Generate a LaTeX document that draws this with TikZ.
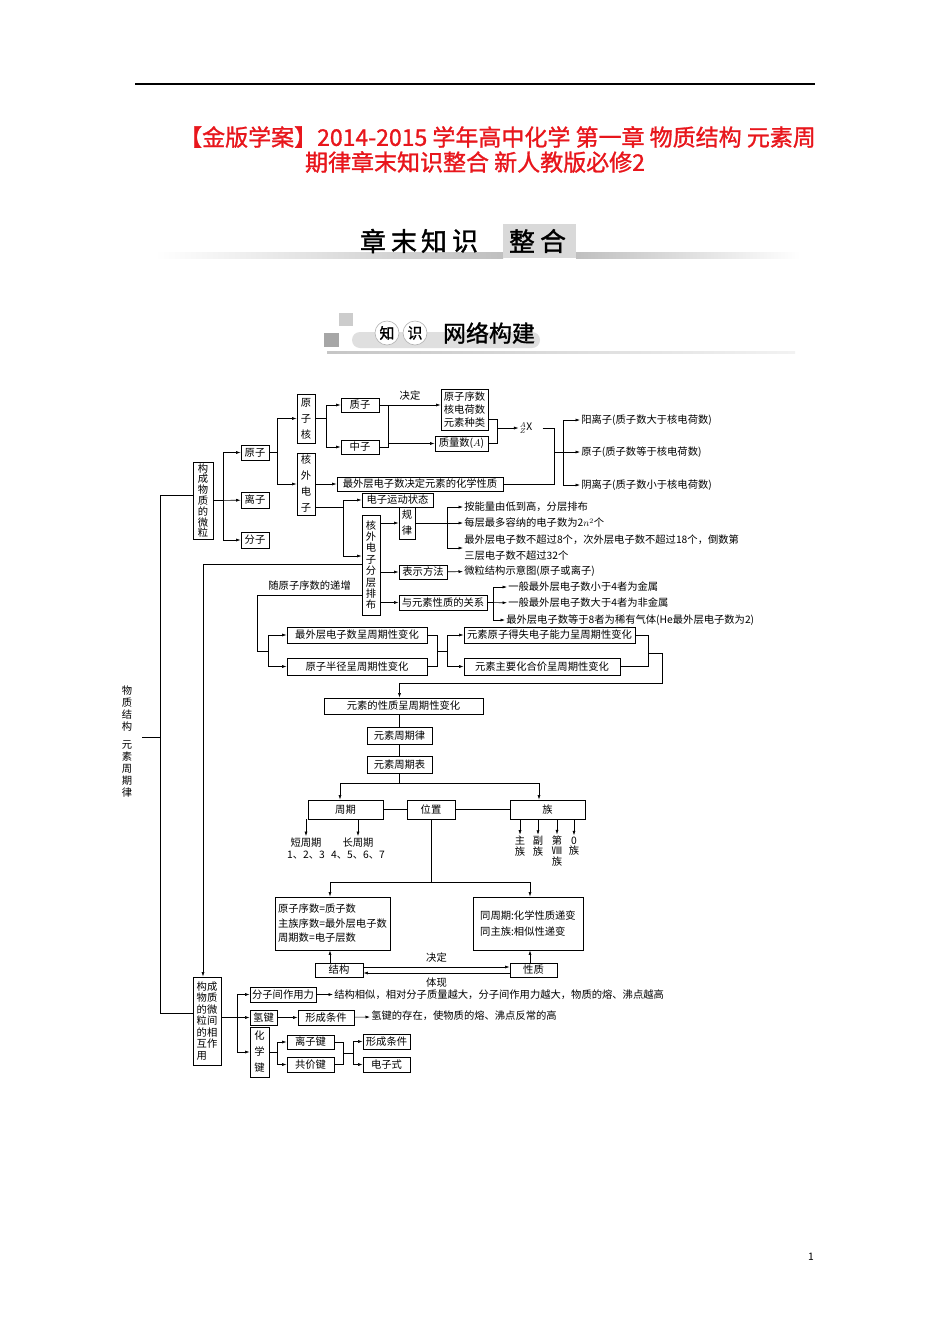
\documentclass[tikz,border=0pt]{standalone}
\usepackage{fontspec}
\setmainfont{Noto Sans CJK SC}
\newfontfamily\hdfont{Noto Sans CJK SC}[FakeBold=1.2]
\usetikzlibrary{arrows.meta,calc}
\definecolor{titlered}{RGB}{232,22,28}

\begin{document}
\begin{tikzpicture}[x=1pt,y=-1pt,line width=0.6pt,>={Latex[length=4.5pt,width=3pt]},
  every node/.style={font=\fontsize{10.3}{12}\selectfont},
  box/.style={draw,line width=0.8pt,inner sep=0pt,align=center},
  vbox/.style={box,font=\fontsize{10.3}{#1}\selectfont}, vbox/.default=16,
  txt/.style={anchor=west,inner sep=1pt},
  vt/.style={align=center,inner sep=1pt,font=\fontsize{10.3}{10.5}\selectfont}]
  \path[use as bounding box,fill=white] (0,0) rectangle (950,1344);

  \draw[line width=1.5pt] (135,84) -- (815,84);
  \node[text=titlered,font=\hdfont\fontsize{23}{25}\selectfont] (title1) at (497.5,137) {【金版学案】2014-2015 学年高中化学 第一章 物质结构 元素周};
  \node[text=titlered,font=\hdfont\fontsize{23}{25}\selectfont] (title2) at (475,162) {期律章末知识整合 新人教版必修2};

  \shade[left color=white,right color=gray!50] (155,252) rectangle (503,258);
  \shade[left color=gray!50,right color=white] (576,252) rectangle (800,258);
  \fill[gray!30] (503,224) rectangle (576,258);
  \foreach \c/\x [count=\i] in {章/373,末/404,知/434,识/465,整/522,合/553}
    \node[font=\hdfont\fontsize{26}{26}\selectfont] (hd\i) at (\x,241) {\c};

  \fill[gray!40] (339,313) rectangle (353,326);
  \fill[gray!70] (324,333) rectangle (339,347);
  \shade[left color=gray!45,right color=gray!10] (327,351) rectangle (795,353);
  \fill[gray!25,rounded corners=8pt] (352,332) rectangle (540,348);
  \node[circle,draw=gray!60,fill=white,minimum size=24,inner sep=0pt,font=\hdfont\fontsize{15}{15}\selectfont] (zs1) at (387,333) {知};
  \node[circle,draw=gray!60,fill=white,minimum size=24,inner sep=0pt,font=\hdfont\fontsize{15}{15}\selectfont] (zs2) at (415,333) {识};
  \node[font=\hdfont\fontsize{23}{23}\selectfont] (wljg) at (489,333) {网络构建};

  \node[align=center,inner sep=0pt] (root) at (127,742) {物\\质\\结\\构\\[6pt]元\\素\\周\\期\\律};
  \node[vbox=10.8,minimum width=20,minimum height=77] (wl) at (203,500.5) {构\\成\\物\\质\\的\\微\\粒};
  \node[box,minimum width=28,minimum height=15] (yz) at (255,452.5) {原子};
  \node[box,minimum width=28,minimum height=16] (lz) at (255,500) {离子};
  \node[box,minimum width=28,minimum height=16] (fz) at (255,540) {分子};
  \node[vbox,minimum width=18,minimum height=49] (yzh) at (306,418.5) {原\\子\\核};
  \node[vbox,minimum width=18,minimum height=62] (hwdz) at (306,484) {核\\外\\电\\子};
  \node[box,minimum width=38,minimum height=14] (zz) at (360,405) {质子};
  \node[box,minimum width=38,minimum height=14] (zhz) at (360,447) {中子};
  \node[vbox=13,minimum width=47,minimum height=41] (xs) at (464.5,409.5) {原子序数\\核电荷数\\元素种类};
  \node[box,minimum width=53,minimum height=15] (zls) at (461.5,443.5) {质量数($A$)};
  \node[inner sep=1pt] (X) at (526,428) {$^{A}_{Z}\mathrm{X}$};
  \node[txt] (ylz) at (580,420) {阳离子(质子数大于核电荷数)};
  \node[txt] (yzt) at (580,452) {原子(质子数等于核电荷数)};
  \node[txt] (yinlz) at (580,485) {阴离子(质子数小于核电荷数)};
  \node[box,minimum width=166,minimum height=14] (zwc) at (420,484) {最外层电子数决定元素的化学性质};
  \node[box,minimum width=71,minimum height=14] (ydzt) at (397.5,500) {电子运动状态};
  \node[vbox=11.4,minimum width=18,minimum height=100] (fcpb) at (371,565) {核\\外\\电\\子\\分\\层\\排\\布};
  \node[vbox,minimum width=16,minimum height=32] (gl) at (407,523) {规\\律};
  \node[box,minimum width=48,minimum height=14] (bsff) at (423,572) {表示方法};
  \node[box,minimum width=88,minimum height=15] (gx) at (443,602.5) {与元素性质的关系};
  \node[txt] (t1) at (463,507) {按能量由低到高，分层排布};
  \node[txt] (t2) at (463,523) {每层最多容纳的电子数为2$n^2$个};
  \node[txt,align=left,font=\fontsize{10.3}{16}\selectfont] (t3) at (463,548) {最外层电子数不超过8个，次外层电子数不超过18个，倒数第\\三层电子数不超过32个};
  \node[txt] (t4) at (463,571) {微粒结构示意图(原子或离子)};
  \node[txt] (t5) at (507,587) {一般最外层电子数小于4者为金属};
  \node[txt] (t6) at (507,603) {一般最外层电子数大于4者为非金属};
  \node[txt] (t7) at (505,620) {最外层电子数等于8者为稀有气体(He最外层电子数为2)};
  \node[box,minimum width=140,minimum height=16] (zwzq) at (357,635) {最外层电子数呈周期性变化};
  \node[box,minimum width=140,minimum height=17] (bjzq) at (357,666.5) {原子半径呈周期性变化};
  \node[box,minimum width=171,minimum height=16] (dszq) at (549.5,635) {元素原子得失电子能力呈周期性变化};
  \node[box,minimum width=156,minimum height=17] (hjzq) at (542,666.5) {元素主要化合价呈周期性变化};
  \node[box,minimum width=159,minimum height=16] (xzzq) at (403.5,706) {元素的性质呈周期性变化};
  \node[box,minimum width=65,minimum height=17] (zql) at (399.5,735.5) {元素周期律};
  \node[box,minimum width=65,minimum height=17] (zqb) at (399.5,764.5) {元素周期表};
  \node[box,minimum width=75,minimum height=19] (zq) at (345.5,809.5) {周期};
  \node[box,minimum width=48,minimum height=19] (wz) at (431,809.5) {位置};
  \node[box,minimum width=75,minimum height=19] (zu) at (547.5,809.5) {族};
  \node[align=center,inner sep=1pt] (dzq) at (306,848) {短周期\\1、2、3};
  \node[align=center,inner sep=1pt] (cqz) at (358,848) {长周期\\4、5、6、7};
  \node[vt] (zhu) at (520,846) {主\\族};
  \node[vt] (fu) at (538,846) {副\\族};
  \node[vt] (d8) at (557,851) {第\\Ⅷ\\族};
  \node[vt] (z0) at (574,846) {0\\族};
  \node[vbox=14.5,align=left,minimum width=115,minimum height=53] (jgb) at (332.5,923.5) {原子序数=质子数\\主族序数=最外层电子数\\周期数=电子层数};
  \node[vbox=16,align=left,minimum width=110,minimum height=53] (xzb) at (528,923.5) {同周期:化学性质递变\\同主族:相似性递变};
  \node[box,minimum width=48,minimum height=14] (jiegou) at (339,970) {结构};
  \node[box,minimum width=47,minimum height=14] (xingzhi) at (533.5,970) {性质};
  \node[vbox=11.5,align=left,minimum width=28,minimum height=88] (xhzy) at (207,1021) {构成\\物质\\的微\\粒间\\的相\\互作\\用};
  \node[box,minimum width=66,minimum height=15] (fzj) at (283,994.5) {分子间作用力};
  \node[box,minimum width=27,minimum height=15] (qj) at (263.5,1017.5) {氢键};
  \node[box,minimum width=56,minimum height=15] (xctj) at (326,1017.5) {形成条件};
  \node[vbox,minimum width=19,minimum height=50] (hxj) at (259.5,1052) {化\\学\\键};
  \node[box,minimum width=47,minimum height=14] (lzj) at (310.5,1042) {离子键};
  \node[box,minimum width=47,minimum height=15] (gjj) at (310.5,1064.5) {共价键};
  \node[box,minimum width=47,minimum height=15] (xctj2) at (386.5,1041.5) {形成条件};
  \node[box,minimum width=47,minimum height=15] (dzs) at (386.5,1064.5) {电子式};
  \node[txt] (fzjt) at (333,994.5) {结构相似，相对分子质量越大，分子间作用力越大，物质的熔、沸点越高};
  \node[txt] (qjt) at (370,1016) {氢键的存在，使物质的熔、沸点反常的高};
  \node (pg) at (811,1257) {1};

  \coordinate (trunk) at (160,737);
  \draw ($(root.east |- trunk)+(10,0)$) -- (trunk);
  \draw (wl.west |- 0,495) -| (160,1013) -- (xhzy.west |- 0,1013);
  \draw[->] (wl.east) -- (lz);
  \draw[->] (wl.east) -- ++(10,0) |- (yz);
  \draw[->] (wl.east) -- ++(10,0) |- (fz);
  \draw[->] (yz.east) -- ++(8,0) |- (yzh);
  \draw[->] (yz.east) -- ++(8,0) |- (hwdz);
  \draw[->] (yzh.east) -- ++(11,0) |- (zz);
  \draw[->] (yzh.east) -- ++(11,0) |- (zhz);
  \draw[->] (zz.east) -- node[above=1pt] {决定} (zz.east -| xs.west);
  \draw (zz.east) -- ++(9,0) coordinate (b1) |- (zhz.east);
  \draw[->] (b1 |- zls) -- (zls);
  \draw (xs.east |- 0,419) -- ++(9,0) coordinate (b2) |- (zls.east);
  \draw[->] (b2 |- X) -- (X);
  \coordinate (b3) at (554,452);
  \draw (X.east) ++(9,0) -| (b3 |- zwc) -- (zwc);
  \draw[->] (b3) -- (yzt);
  \draw[->] (b3) -- ++(9,0) |- (ylz);
  \draw[->] (b3) -- ++(9,0) |- (yinlz);
  \draw[->] (hwdz.east |- zwc) -- (zwc);
  \draw (hwdz.east |- 0,507) -- ++(28,0) coordinate (b4);
  \draw[->] (b4) |- (ydzt);
  \draw[->] (b4) |- (fcpb.west |- 0,556);
  \draw[->] (fcpb.east |- gl) -- (gl);
  \draw[->] (fcpb.east |- bsff) -- (bsff);
  \draw[->] (fcpb.east |- gx) -- (gx);
  \draw[->] (gl) -- (t2);
  \draw[->] (gl.east) -- ++(32,0) coordinate (b5) |- (t1);
  \draw[->] (b5) |- (t3);
  \draw[->] (bsff) -- (t4);
  \draw[->] (gx) -- (t6);
  \draw[->] (gx.east) -- ++(6,0) coordinate (b6) |- (t5);
  \draw[->] (b6) |- (t7);
  \draw[->] (fcpb.west |- 0,564) -| (xhzy.north -| 203,0);
  \draw (fcpb.west |- 0,595) -- node[above=1pt] {随原子序数的递增} ++(-104,0) |- ++(11,56) coordinate (b7);
  \draw[->] (b7) |- (zwzq);
  \draw[->] (b7) |- (bjzq);
  \draw (zwzq.east) -| ++(10,16) coordinate (b8) |- (bjzq.east);
  \draw (b8) -- ++(10,0) coordinate (b9);
  \draw[->] (b9) |- (dszq);
  \draw[->] (b9) |- (hjzq);
  \draw (dszq.east) -| ++(13,18) coordinate (b10) |- (hjzq.east);
  \draw[->] (b10) -- ++(14,0) |- ($(xzzq.north -| zql)+(0,-14)$) -- (xzzq.north -| zql);
  \draw (xzzq.south -| zql) -- (zql);
  \draw (zql) -- (zqb);
  \draw (zqb.south) -- ++(0,10) coordinate (b11);
  \draw[->] (b11) -| ([xshift=-5.5pt]zq.north);
  \draw[->] (b11) -| ([xshift=-8.5pt]zu.north);
  \draw (zq) -- (wz) -- (zu);
  \foreach \n in {dzq,cqz} \draw[->] (zq.south -| \n) -- (\n);
  \foreach \n in {zhu,fu,d8,z0} \draw[->] (zu.south -| \n) -- (\n);
  \draw (wz.south) -- ++(0,63) coordinate (b12);
  \draw[->] (b12) -| ([xshift=-2.5pt]jgb.north);
  \draw[->] (b12) -| ([xshift=2pt]xzb.north);
  \draw[->] ([xshift=-9pt]jiegou.north) -- ([xshift=-9pt]jiegou.north |- jgb.south);
  \draw[->] ([xshift=-3.5pt]xingzhi.north) -- ([xshift=-3.5pt]xingzhi.north |- xzb.south);
  \draw[->] ([yshift=3pt]jiegou.east) -- node[above=1pt] {决定} ([yshift=3pt]xingzhi.west);
  \draw[->] ([yshift=-3pt]xingzhi.west) -- node[below=1pt] {体现} ([yshift=-3pt]jiegou.east);
  \draw[->] (xhzy.east |- qj) -- (qj);
  \draw[->] (xhzy.east |- qj) -- ++(16,0) coordinate (c1) |- (fzj);
  \draw[->] (c1) |- (hxj);
  \draw[->] (fzj) -- (fzjt);
  \draw[->] (qj) -- (xctj);
  \draw[->] (xctj) -- (qjt);
  \draw[->] (hxj.east) -- ++(8,0) coordinate (c2) |- (lzj);
  \draw[->] (c2) |- (gjj);
  \draw (lzj.east) -| ++(9,11) coordinate (c3) |- (gjj.east);
  \draw (c3) -- ++(10,0) coordinate (c4);
  \draw[->] (c4) |- (xctj2);
  \draw[->] (c4) |- (dzs);
\end{tikzpicture}
\end{document}
